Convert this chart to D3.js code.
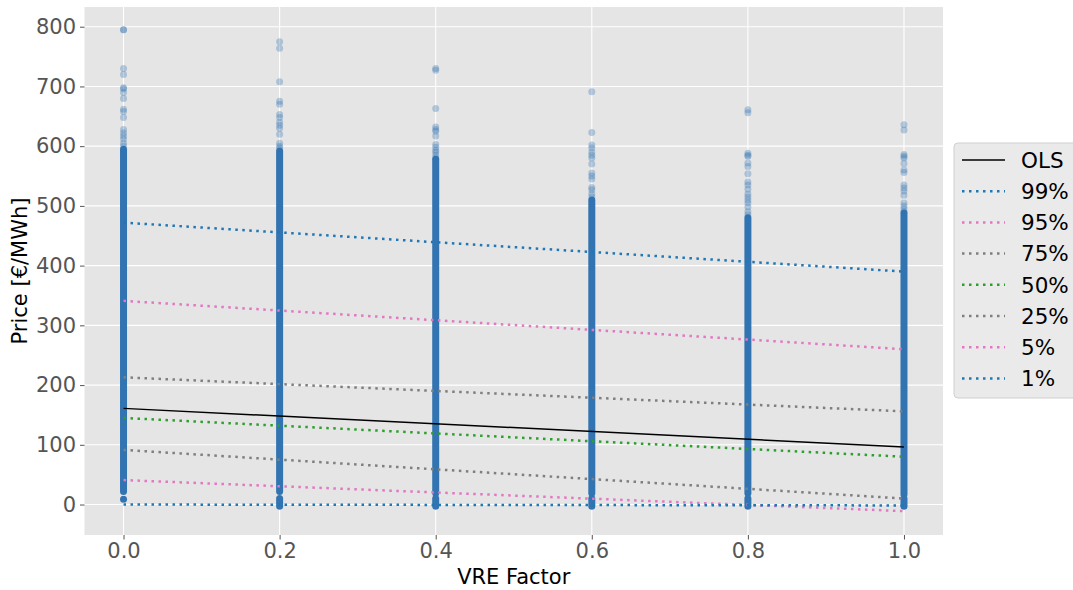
<!DOCTYPE html>
<html>
<head>
<meta charset="utf-8">
<script src="https://cdn.jsdelivr.net/npm/d3@7"></script>
<style>
  html, body { margin: 0; padding: 0; background: #ffffff; }
  svg { display: block; font-family: "DejaVu Sans", sans-serif; }
</style>
</head>
<body>
<svg id="chart" width="1073" height="590"></svg>
<script>
// VRE factor levels on the x axis
const factors = [0.0, 0.2, 0.4, 0.6, 0.8, 1.0];

// Prices where observations pile up into a solid column, per factor
const denseLow  = [22, 22, 19, 19, 19, 17];
const denseHigh = [595, 592, 578, 510, 480, 488];

// Tight cluster of near-zero prices below each column
const clusterLow  = [9, -3, -3, -3, -3, -3];
const clusterHigh = [9, 10, 10, 10, 10, 10];

// Individually visible observations (€/MWh), per factor
const sparse0 = [795, 795, 730, 720, 698, 696, 690, 680, 662, 658, 648, 628, 622, 617, 612, 605, 600];
const sparse2 = [775, 764, 708, 675, 670, 653, 648, 640, 635, 630, 620, 605, 600, 597];
const sparse4 = [730, 727, 663, 632, 628, 625, 617, 603, 598, 593, 590, 585, 580];
const sparse6 = [691, 623, 602, 597, 590, 585, 580, 570, 555, 550, 545, 531, 527, 520, 515];
const sparse8 = [661, 656, 588, 585, 583, 572, 566, 554, 540, 535, 528, 520, 515, 510, 505, 498, 490, 485];
const sparse10 = [636, 627, 586, 583, 580, 571, 560, 556, 535, 530, 525, 518, 505, 500, 495, 490];
const sparseByFactor = [sparse0, sparse2, sparse4, sparse6, sparse8, sparse10];

// Fitted lines: price at VRE factor 0 and at VRE factor 1
const fitNames  = ["OLS", "99%", "95%", "75%", "50%", "25%", "5%", "1%"];
const fitStart  = [161, 472, 341, 213, 145, 91.5, 41, 0];
const fitEnd    = [96.5, 390, 260, 156, 80, 10, -11, -1.5];
const fitColors = ["#000000", "#1f77b4", "#e377c2", "#7f7f7f", "#2ca02c", "#7f7f7f", "#e377c2", "#1f77b4"];

// Axis ticks
const xTicks = [0.0, 0.2, 0.4, 0.6, 0.8, 1.0];
const yTicks = [0, 100, 200, 300, 400, 500, 600, 700, 800];

const svg = d3.select("#chart");
const plot = { left: 84.5, right: 943, top: 7, bottom: 535 };

const x = d3.scaleLinear().domain([-0.05, 1.05]).range([plot.left, plot.right]);
const y = d3.scaleLinear().domain([-51, 833]).range([plot.bottom, plot.top]);

// Panel background
svg.append("rect")
  .attr("x", plot.left).attr("y", plot.top)
  .attr("width", plot.right - plot.left).attr("height", plot.bottom - plot.top)
  .attr("fill", "#e5e5e5");

// Grid
const grid = svg.append("g");
grid.selectAll("line.gx").data(xTicks).join("line")
  .attr("x1", d => x(d)).attr("x2", d => x(d))
  .attr("y1", plot.top).attr("y2", plot.bottom)
  .attr("stroke", "#ffffff").attr("stroke-width", 1.1);
grid.selectAll("line.gy").data(yTicks).join("line")
  .attr("x1", plot.left).attr("x2", plot.right)
  .attr("y1", d => y(d)).attr("y2", d => y(d))
  .attr("stroke", "#ffffff").attr("stroke-width", 1.1);

const pointColor = "#3174b1";
const r = 3.5;

// Solid columns of overlapping observations
const bands = factors.flatMap((f, i) => [
  { f, lo: denseLow[i], hi: denseHigh[i] },
  { f, lo: clusterLow[i], hi: clusterHigh[i] }
]);
svg.append("g").selectAll("path").data(bands).join("path")
  .attr("d", d => `M${x(d.f)},${y(d.lo)}V${y(d.hi) - 0.01}`)
  .attr("stroke", pointColor).attr("stroke-width", 2 * r)
  .attr("stroke-linecap", "round").attr("fill", "none");

// Individual observations
const pts = factors.flatMap((f, i) => sparseByFactor[i].map(v => ({ f, v })));
svg.append("g").selectAll("circle").data(pts).join("circle")
  .attr("cx", d => x(d.f)).attr("cy", d => y(d.v)).attr("r", r)
  .attr("fill", pointColor).attr("fill-opacity", 0.32);

// Regression lines
const fits = fitNames.map((n, i) => ({ n, a: fitStart[i], b: fitEnd[i], c: fitColors[i] }));
svg.append("g").selectAll("line").data(fits).join("line")
  .attr("x1", x(0)).attr("x2", x(1))
  .attr("y1", d => y(d.a)).attr("y2", d => y(d.b))
  .attr("stroke", d => d.c)
  .attr("stroke-width", d => d.n === "OLS" ? 1.5 : 2.5)
  .attr("stroke-dasharray", d => d.n === "OLS" ? null : "2.5 4.5");

// Axes
const tickFont = 21;
const xAxis = svg.append("g").attr("transform", `translate(0,${plot.bottom})`)
  .call(d3.axisBottom(x).tickValues(xTicks).tickFormat(d3.format(".1f")).tickSize(4.5).tickPadding(4));
const yAxis = svg.append("g").attr("transform", `translate(${plot.left},0)`)
  .call(d3.axisLeft(y).tickValues(yTicks).tickFormat(d3.format("d")).tickSize(4.5).tickPadding(4));
[xAxis, yAxis].forEach(g => {
  g.select(".domain").remove();
  g.selectAll(".tick line").attr("stroke", "#555555").attr("stroke-width", 1);
  g.selectAll(".tick text").attr("fill", "#555555")
    .style("font-size", tickFont + "px").style("font-family", "DejaVu Sans, sans-serif");
});

// Axis titles
svg.append("text")
  .attr("x", (plot.left + plot.right) / 2).attr("y", 584)
  .attr("text-anchor", "middle").attr("fill", "#000")
  .style("font-size", "21px").text("VRE Factor");
svg.append("text")
  .attr("transform", `translate(27,${(plot.top + plot.bottom) / 2}) rotate(-90)`)
  .attr("text-anchor", "middle").attr("fill", "#000")
  .style("font-size", "21px").text("Price [€/MWh]");

// Legend
const lg = svg.append("g");
lg.append("rect")
  .attr("x", 954).attr("y", 143).attr("width", 140).attr("height", 255).attr("rx", 4)
  .attr("fill", "#eaeaea").attr("stroke", "#cfcfcf").attr("stroke-width", 1);
const rowY = i => 160 + i * 31.2;
const rows = lg.selectAll("g.row").data(fits).join("g").attr("class", "row");
rows.append("line")
  .attr("x1", 962).attr("x2", 1005)
  .attr("y1", (d, i) => rowY(i)).attr("y2", (d, i) => rowY(i))
  .attr("stroke", d => d.c)
  .attr("stroke-width", d => d.n === "OLS" ? 1.5 : 2.5)
  .attr("stroke-dasharray", d => d.n === "OLS" ? null : "2.5 4.5");
rows.append("text")
  .attr("x", 1021).attr("y", (d, i) => rowY(i)).attr("dy", "0.36em")
  .attr("fill", "#000").style("font-size", "21.5px")
  .text(d => d.n);
</script>
</body>
</html>
